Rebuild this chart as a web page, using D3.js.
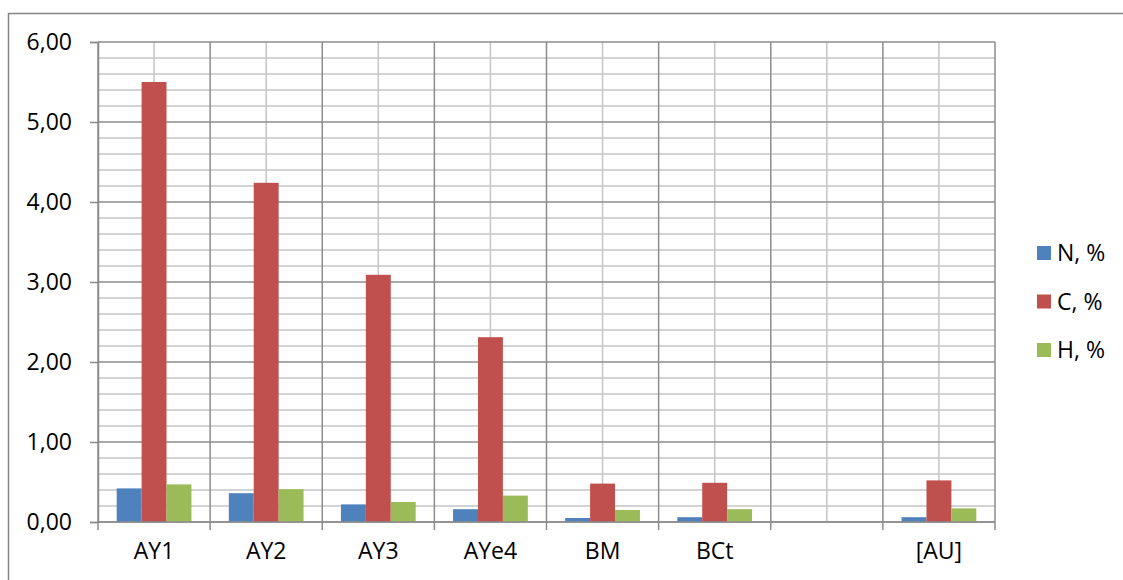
<!DOCTYPE html>
<html>
<head>
<meta charset="utf-8">
<script src="https://cdn.jsdelivr.net/npm/d3@7"></script>
<style>
  html, body { margin: 0; padding: 0; background: #fff; }
  svg { display: block; }
  text { font-family: "Open Sans", "Liberation Sans", sans-serif; fill: #000; }
</style>
</head>
<body>
<svg id="chart" width="1123" height="580"></svg>
<script>
// Horizon samples and their element contents (%)
const categories = ["AY1", "AY2", "AY3", "AYe4", "BM", "BCt", "", "[AU]"];
const seriesNames = ["N, %", "C, %", "H, %"];
const nValues = [0.42, 0.36, 0.22, 0.16, 0.05, 0.06, null, 0.06];
const cValues = [5.50, 4.24, 3.09, 2.31, 0.48, 0.49, null, 0.52];
const hValues = [0.47, 0.41, 0.25, 0.33, 0.15, 0.16, null, 0.17];
const yTicks = [0, 1, 2, 3, 4, 5, 6];
const colors = ["#4F81BD", "#C0504D", "#9BBB59"];

const seriesValues = [nValues, cValues, hValues];
const svg = d3.select("#chart");

// Outer chart frame
svg.append("rect")
  .attr("x", 8.5).attr("y", 13.5)
  .attr("width", 1300).attr("height", 800)
  .attr("fill", "none").attr("stroke", "#868686").attr("stroke-width", 1.5);

const plot = { left: 98, right: 995, top: 42, bottom: 522 };

const x = d3.scaleBand()
  .domain(d3.range(categories.length))
  .range([plot.left, plot.right])
  .padding(0);

const xInner = d3.scaleBand()
  .domain(d3.range(seriesNames.length))
  .range([0, x.bandwidth()])
  .paddingInner(0)
  .paddingOuter(0.75);

const y = d3.scaleLinear().domain([0, 6]).range([plot.bottom, plot.top]);

const grid = svg.append("g");

// Minor horizontal gridlines every 0.2
const minorY = d3.range(0, 6.001, 0.2).filter(v => Math.abs(v - Math.round(v)) > 1e-6);
grid.selectAll("line.minor-h").data(minorY).enter().append("line")
  .attr("x1", plot.left).attr("x2", plot.right)
  .attr("y1", d => y(d)).attr("y2", d => y(d))
  .attr("stroke", "#c4c4c4").attr("stroke-width", 1.5);

// Minor vertical gridlines at category centres
grid.selectAll("line.minor-v").data(d3.range(categories.length)).enter().append("line")
  .attr("x1", d => x(d) + x.bandwidth() / 2).attr("x2", d => x(d) + x.bandwidth() / 2)
  .attr("y1", plot.top).attr("y2", plot.bottom)
  .attr("stroke", "#c4c4c4").attr("stroke-width", 1.5);

// Major horizontal gridlines
grid.selectAll("line.major-h").data(yTicks).enter().append("line")
  .attr("x1", plot.left).attr("x2", plot.right)
  .attr("y1", d => y(d)).attr("y2", d => y(d))
  .attr("stroke", "#8c8c8c").attr("stroke-width", 1.5);

// Major vertical gridlines at category boundaries
const bounds = d3.range(categories.length + 1).map(i => i < categories.length ? x(i) : plot.right);
grid.selectAll("line.major-v").data(bounds).enter().append("line")
  .attr("x1", d => d).attr("x2", d => d)
  .attr("y1", plot.top).attr("y2", plot.bottom)
  .attr("stroke", "#8c8c8c").attr("stroke-width", 1.5);

// Bars
const groups = svg.append("g").selectAll("g").data(seriesNames).enter().append("g")
  .attr("fill", (d, i) => colors[i]);
groups.each(function(name, si) {
  d3.select(this).selectAll("rect")
    .data(seriesValues[si].map((v, ci) => ({ v, ci })).filter(d => d.v != null))
    .enter().append("rect")
    .attr("x", d => x(d.ci) + xInner(si))
    .attr("width", xInner.bandwidth())
    .attr("y", d => y(d.v))
    .attr("height", d => y(0) - y(d.v));
});

// Y axis
const yAxis = d3.axisLeft(y)
  .tickValues(yTicks)
  .tickSize(8)
  .tickPadding(18)
  .tickFormat(d => d3.format(".2f")(d).replace(".", ","));
const yg = svg.append("g").attr("transform", `translate(${plot.left},0)`).call(yAxis);
yg.select(".domain").attr("stroke", "#8c8c8c").attr("stroke-width", 1.5);
yg.selectAll(".tick line").attr("stroke", "#8c8c8c").attr("stroke-width", 1.5);
yg.selectAll(".tick text").attr("font-size", 23).attr("font-family", "'Open Sans', sans-serif").attr("fill", "#000");

// X axis (ticks at category boundaries)
const xg = svg.append("g").attr("transform", `translate(0,${plot.bottom})`);
xg.append("line").attr("x1", plot.left).attr("x2", plot.right)
  .attr("y1", 0).attr("y2", 0).attr("stroke", "#8c8c8c").attr("stroke-width", 1.5);
xg.selectAll("line.tick").data(bounds).enter().append("line")
  .attr("x1", d => d).attr("x2", d => d).attr("y1", 0).attr("y2", 8)
  .attr("stroke", "#8c8c8c").attr("stroke-width", 1.5);
xg.selectAll("text").data(categories).enter().append("text")
  .attr("x", (d, i) => x(i) + x.bandwidth() / 2)
  .attr("y", 29)
  .attr("dy", "0.35em")
  .attr("text-anchor", "middle")
  .attr("font-size", 23)
  .text(d => d);

// Legend
const legend = svg.append("g").selectAll("g").data(seriesNames).enter().append("g")
  .attr("transform", (d, i) => `translate(1037,${253 + i * 48.5})`);
legend.append("rect")
  .attr("x", 0).attr("y", -7).attr("width", 14).attr("height", 14)
  .attr("fill", (d, i) => colors[i]);
legend.append("text")
  .attr("x", 20).attr("y", 0).attr("dy", "0.35em")
  .attr("font-size", 23)
  .text(d => d);
</script>
</body>
</html>
